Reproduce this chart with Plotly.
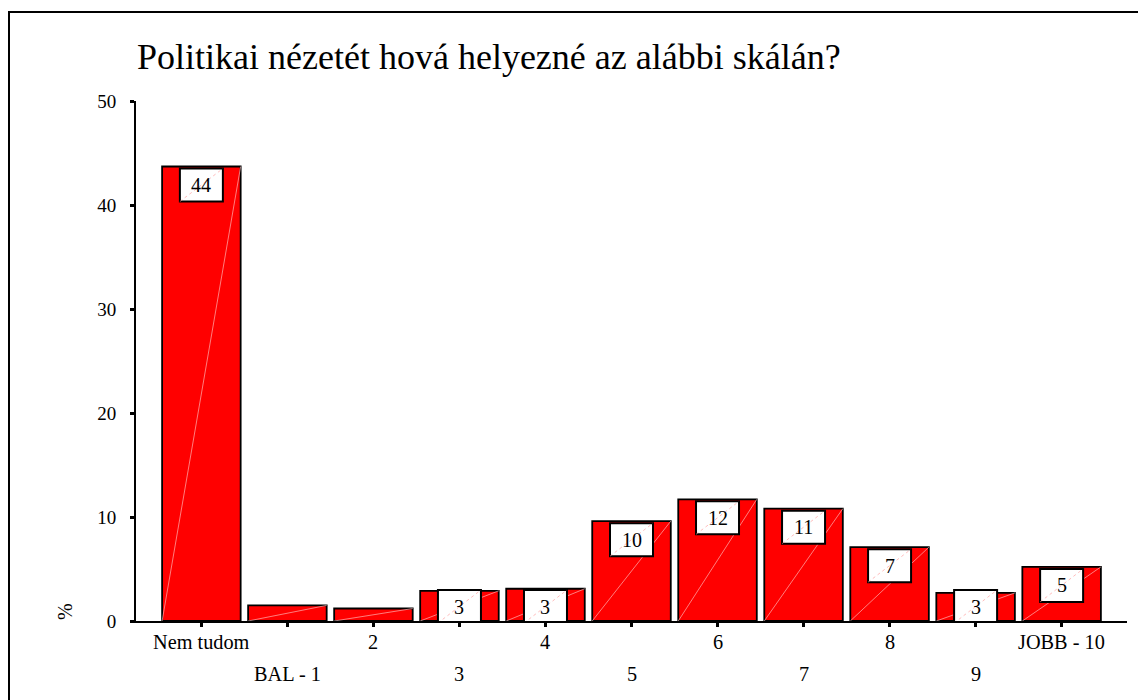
import plotly.graph_objects as go

categories = ["Nem tudom", "BAL - 1", "2", "3", "4", "5", "6", "7", "8", "9", "JOBB - 10"]
values = [43.7, 1.5, 1.2, 2.9, 3.1, 9.6, 11.7, 10.8, 7.1, 2.7, 5.2]
labels = ["44", "", "", "3", "3", "10", "12", "11", "7", "3", "5"]
y_ticks = [0, 10, 20, 30, 40, 50]
title_text = "Politikai nézetét hová helyezné az alábbi skálán?"
y_title = "%"

FONT = "Times New Roman, Liberation Serif, serif"
OFF = 8  # page body margin
W, H = 1146 - OFF, 700 - OFF
ML, MT = 136 - OFF, 101 - OFF
MR = W - (1127 - OFF)
MB = H - (621 - OFF)
XR = [-0.76, 10.76]
YR = [0, 50]
BAR_W = 0.913

xs = list(range(len(categories)))

fig = go.Figure()
fig.add_trace(go.Bar(
    x=xs, y=values, width=BAR_W,
    marker=dict(color="#ff0000", line=dict(color="black", width=1.8)),
    hoverinfo="skip",
))

# faint diagonal lines inside each bar (bottom-left to top-right)
dx, dy = [], []
for x, v in zip(xs, values):
    dx += [x - BAR_W / 2, x + BAR_W / 2, None]
    dy += [0, v, None]
fig.add_trace(go.Scatter(x=dx, y=dy, mode="lines",
                         line=dict(color="rgba(255,200,200,0.9)", width=0.7),
                         hoverinfo="skip", showlegend=False))

pw, ph = W - ML - MR, H - MT - MB
px_per_x = pw / (XR[1] - XR[0])
px_per_y = ph / (YR[1] - YR[0])
box_w = 43 / px_per_x
box_h = 33 / px_per_y
gap = 2 / px_per_y
shapes = []
annotations = []
for x, v, lab in zip(xs, values, labels):
    if not lab:
        continue
    top = max(v - gap, box_h - gap)
    bot = top - box_h
    shapes.append(dict(type="rect", xref="x", yref="y", x0=x - box_w / 2, x1=x + box_w / 2,
                       y0=bot, y1=top, fillcolor="white", line=dict(color="black", width=2),
                       layer="above"))
    shapes.append(dict(type="line", xref="x", yref="y", x0=x - box_w / 2, x1=x + box_w / 2,
                       y0=bot, y1=top, line=dict(color="rgba(255,150,150,0.8)", width=0.8, dash="dot"),
                       layer="above"))
    annotations.append(dict(x=x, y=(top + bot) / 2, xref="x", yref="y", text=lab, showarrow=False,
                            font=dict(family=FONT, size=20, color="black"),
                            xanchor="center", yanchor="middle"))

# two-row category labels
for i, c in enumerate(categories):
    annotations.append(dict(x=i, y=0, xref="x", yref="paper", text=c, showarrow=False,
                            font=dict(family=FONT, size=20.3, color="black"),
                            xanchor="center", yanchor="middle",
                            yshift=-21 if i % 2 == 0 else -53))

# title
annotations.append(dict(x=0, y=1, xref="paper", yref="paper", text=title_text, showarrow=False,
                        font=dict(family=FONT, size=36, color="black"),
                        xanchor="left", yanchor="middle", xshift=-1, yshift=43.6))
# y title
annotations.append(dict(x=0, y=0, xref="paper", yref="paper", text=y_title, showarrow=False,
                        font=dict(family=FONT, size=20, color="black"), textangle=-90,
                        xanchor="center", yanchor="middle", xshift=-71, yshift=9))

# outer frame
shapes.append(dict(type="rect", xref="paper", yref="paper",
                   x0=(9 - OFF - ML) / pw, x1=(W + 10 - ML) / pw,
                   y0=-(MB + 10) / ph, y1=(H - MB - (12 - OFF)) / ph,
                   line=dict(color="black", width=2), fillcolor="rgba(0,0,0,0)", layer="below"))

fig.update_layout(
    width=W, height=H,
    margin=dict(l=ML, r=MR, t=MT, b=MB),
    paper_bgcolor="white", plot_bgcolor="white",
    showlegend=False,
    shapes=shapes, annotations=annotations,
    xaxis=dict(range=XR, tickvals=xs, showticklabels=False, ticks="outside", ticklen=4,
               tickwidth=3, tickcolor="black", showline=True, linecolor="black", linewidth=2,
               showgrid=False, zeroline=False, fixedrange=True),
    yaxis=dict(range=YR, tickvals=y_ticks, ticks="outside", ticklen=4, tickwidth=3,
               tickcolor="black", showline=True, linecolor="black", linewidth=2,
               showgrid=False, zeroline=False, ticklabelstandoff=10,
               tickfont=dict(family=FONT, size=19, color="black"), fixedrange=True),
)

fig.write_html("out.html")
